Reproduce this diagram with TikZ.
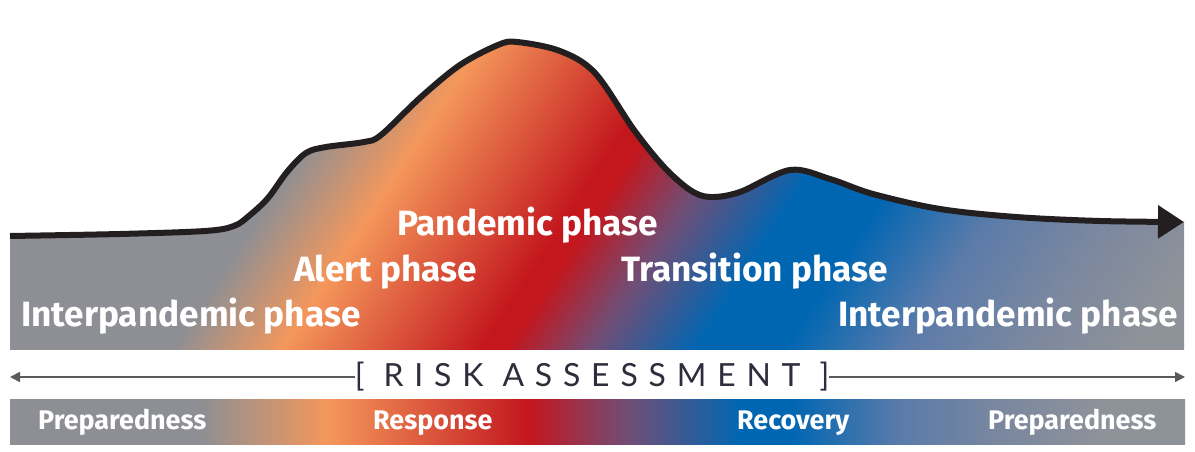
\documentclass[tikz,border=0pt]{standalone}
\usepackage{fontspec}
\setmainfont{Fira Sans}
\newfontfamily\riskfont{Lato}[LetterSpace=34]
\usetikzlibrary{arrows.meta}

\definecolor{pgray}{RGB}{141,143,148}
\definecolor{porange}{RGB}{244,151,91}
\definecolor{pred}{RGB}{195,22,29}
\definecolor{ppurple}{RGB}{112,78,118}
\definecolor{pblue}{RGB}{0,102,178}
\definecolor{psteel}{RGB}{91,123,170}
\definecolor{pgblue}{RGB}{122,135,159}
\definecolor{pgrayr}{RGB}{142,146,153}
\definecolor{curveblack}{RGB}{35,31,32}
\definecolor{rulegray}{RGB}{90,90,95}
\definecolor{risktext}{RGB}{45,45,60}

\pgfdeclarehorizontalshading{phasefill}{100bp}{color(0bp)=(pgray); color(36.8bp)=(pgray);
  color(40.5bp)=(porange); color(47.2bp)=(pred); color(48bp)=(pred); color(50.8bp)=(ppurple);
  color(54.3bp)=(pblue); color(57.2bp)=(pblue); color(61.2bp)=(psteel); color(65bp)=(pgblue);
  color(68.8bp)=(pgrayr); color(100bp)=(pgrayr)}
\pgfdeclarehorizontalshading{stagefill}{100bp}{color(0bp)=(pgray); color(33.1bp)=(pgray);
  color(38.5bp)=(porange); color(47.1bp)=(pred); color(51.3bp)=(ppurple); color(56.1bp)=(pblue);
  color(58.2bp)=(pblue); color(62.9bp)=(psteel); color(67.1bp)=(pgblue); color(71.4bp)=(pgrayr);
  color(100bp)=(pgrayr)}

\newcommand\phasecurve{plot[smooth, tension=0.55] coordinates {(10,216) (120,218) (205,221)
  (234,226) (250,237) (268,254) (287,280) (306,299) (326,305) (364,310) (381,317) (421,355)
  (460,387) (498,407) (517,410) (560,401) (595,379) (634,322) (664,285) (690,262) (710,255)
  (740,260) (790,282) (830,273) (873,258) (940,243) (1016,235) (1100,231) (1184,230)}}

\begin{document}
\begin{tikzpicture}[x=1bp, y=1bp]
  %
  \tikzstyle{phase} = [text=white, font=\fontsize{35.3}{35}\selectfont\bfseries, inner sep=0pt, anchor=base west]
  \tikzstyle{stage} = [text=white, font=\fontsize{27}{27}\selectfont\bfseries, inner sep=0pt, anchor=base west]
  \tikzstyle{rule} = [draw=rulegray, line width=1.6bp]
  \useasboundingbox (0,0) rectangle (1195,452);
  % area under the curve
  \begin{scope}
    \clip \phasecurve -- (1184,102) -- (10,102) -- cycle;
    \shade[shading=phasefill, transform canvas={xslant=0.65}] (-250,90) rectangle (1250,420);
  \end{scope}
  \draw[line width=6bp, draw=curveblack, -{Triangle[length=26bp, width=32bp]}] \phasecurve;
  % phases
  \node[phase] (pandemic) at (397,216) {Pandemic phase};
  \node[phase] (alert) at (294,170) {Alert phase};
  \node[phase] (inter1) at (21,125) {Interpandemic phase};
  \node[phase] (transition) at (621,170) {Transition phase};
  \node[phase] (inter2) at (838,125) {Interpandemic phase};
  % risk assessment
  \coordinate (rleft) at (10,75);
  \coordinate (rright) at (1185,75);
  \node[inner sep=0pt, text=risktext, font=\fontsize{32}{32}\selectfont\riskfont] (risk) at (592,75) {[ RISK ASSESSMENT ]};
  \draw[rule, -{Triangle[length=10bp, width=10bp]}] (risk.west) -- (rleft);
  \draw[rule, -{Triangle[length=10bp, width=10bp]}] (risk.east) -- (rright);
  % stages
  \shade[shading=stagefill] (10,7) rectangle (1185,52);
  \node[stage] (prep1) at (38,22) {Preparedness};
  \node[stage] (response) at (373,22) {Response};
  \node[stage] (recovery) at (737,22) {Recovery};
  \node[stage] (prep2) at (988,22) {Preparedness};
\end{tikzpicture}
\end{document}
